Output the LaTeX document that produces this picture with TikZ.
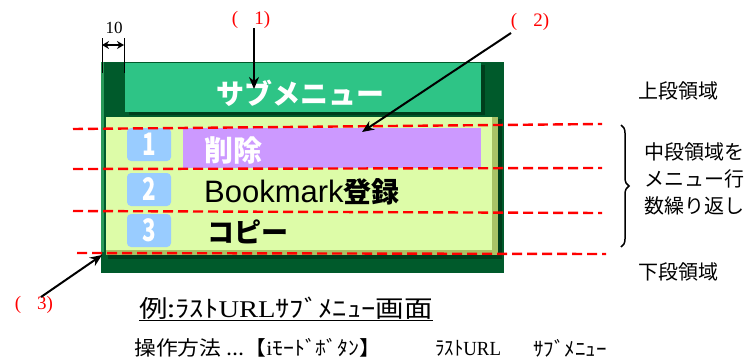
\documentclass[tikz,border=0pt]{standalone}
\usepackage{fontspec}
\setmainfont{Liberation Serif}
\setsansfont{Liberation Sans}
\newfontfamily\cjk{Noto Sans CJK JP}
\usetikzlibrary{arrows.meta,decorations.pathreplacing}
\definecolor{dkgreen}{HTML}{005A2B}
\definecolor{dkshadow}{HTML}{003E1C}
\definecolor{midgreen}{HTML}{2EC486}
\definecolor{edgegreen}{HTML}{2A9A5A}
\definecolor{panel}{HTML}{DDFCA8}
\definecolor{olive}{HTML}{A9C266}
\definecolor{numblue}{HTML}{99CCFF}
\definecolor{selpurple}{HTML}{CC99FF}
\definecolor{redline}{HTML}{FF0000}
\begin{document}
\begin{tikzpicture}[x=1pt,y=-1pt,
  box/.style={inner sep=0pt,outer sep=0pt,anchor=north west},
  numbox/.style={box,fill=numblue,rounded corners=4pt,minimum width=44,minimum height=33,
     text=white,font=\cjk\bfseries\fontsize{31}{31}\selectfont},
  reddash/.style={draw=redline,line width=2.4pt,dash pattern=on 10pt off 5pt},
  arr/.style={draw=black,line width=2pt,-{Stealth[length=12pt,width=10pt]}},
  lbl/.style={inner sep=0pt,anchor=west,font=\cjk\fontsize{20}{27}\selectfont},
  redlbl/.style={inner sep=0pt,text=redline,font=\fontsize{19}{19}\selectfont}]
\useasboundingbox (0,0) rectangle (746,362);
% frame
\node[box,fill=dkgreen,minimum width=403,minimum height=211] (outer) at (101,62) {};
\node[box,fill=edgegreen,minimum width=3,minimum height=190] (outeredge) at (101,62) {};
% title bar
\node[box,fill=dkshadow,minimum width=356,minimum height=50] (titleshadow) at (129,65) {};
\node[box,fill=midgreen,minimum width=356,minimum height=49] (title) at (125,63) {};
\node[text=white,font=\cjk\bfseries\fontsize{28}{28}\selectfont,inner sep=0pt] (titletext) at (300,93) {サブメニュー};
% panel
\node[box,fill=dkshadow,minimum width=394,minimum height=140] (panelshadow) at (108,119) {};
\node[box,fill=olive,minimum width=392,minimum height=138] (paneledge) at (106,117) {};
\node[box,fill=panel,minimum width=386,minimum height=133] (panel) at (106,117) {};
% selected row
\node[box,fill=selpurple,minimum width=298,minimum height=40] (sel) at (183,128) {};
% number boxes
\node[numbox] (n1) at (127,128) {\scalebox{0.72}[1]{1}};
\node[numbox] (n2) at (127,173) {\scalebox{0.72}[1]{2}};
\node[numbox] (n3) at (127,214) {\scalebox{0.72}[1]{3}};
% item texts
\node[inner sep=0pt,anchor=west,text=white,font=\cjk\bfseries\fontsize{29}{29}\selectfont] (i1) at (204,150) {削除};
\node[inner sep=0pt,anchor=west,font=\cjk\fontsize{28}{28}\selectfont] (i2) at (204,192) {{\sffamily\fontsize{31}{31}\selectfont Bookmark}{\bfseries 登録}};
\node[inner sep=0pt,anchor=west,font=\cjk\bfseries\fontsize{27}{27}\selectfont] (i3) at (207,232) {コピー};
% red dashed lines
\coordinate (d1a) at (73,129); \coordinate (d1b) at (602,124);
\coordinate (d2a) at (73,169); \coordinate (d2b) at (602,168);
\coordinate (d3a) at (73,211); \coordinate (d3b) at (602,213);
\coordinate (d4a) at (77,253); \coordinate (d4b) at (606,254);
\draw[reddash] (d1a) -- (d1b);
\draw[reddash] (d2a) -- (d2b);
\draw[reddash] (d3a) -- (d3b);
\draw[reddash] (d4a) -- (d4b);
% dimension 10
\coordinate (t1a) at (102,38); \coordinate (t1b) at (102,73);
\coordinate (t2a) at (124,38); \coordinate (t2b) at (124,73);
\draw[line width=1pt] (t1a) -- (t1b);
\draw[line width=1pt] (t2a) -- (t2b);
\coordinate (da) at (102,45); \coordinate (db) at (124,45);
\draw[line width=1.2pt,{Stealth[length=7pt,width=8pt]}-{Stealth[length=7pt,width=8pt]}] (da) -- (db);
\node[inner sep=0pt,font=\fontsize{17}{17}\selectfont] (ten) at (114,28) {10};
% callouts
\node[redlbl] (p1) at (251,20) {(\hspace{16pt}1)};
\coordinate (a1s) at (254,28); \coordinate (a1e) at (254,89);
\draw[arr] (a1s) -- (a1e);
\node[redlbl] (p2) at (530,22) {(\hspace{16pt}2)};
\coordinate (a2s) at (511,33); \coordinate (a2e) at (362,132);
\draw[arr] (a2s) -- (a2e);
\node[redlbl] (p3) at (34,305) {(\hspace{16pt}3)};
\coordinate (a3s) at (41,297); \coordinate (a3e) at (102,255);
\draw[arr] (a3s) -- (a3e);
% brace
\coordinate (bra) at (621,125); \coordinate (brb) at (621,247);
\draw[line width=1.5pt,decorate,decoration={brace,amplitude=8pt}] (bra) -- (brb);
% right labels
\node[lbl] (upper) at (638,91) {上段領域};
\node[lbl,anchor=north west,align=left] (middle) at (644,142) {中段領域を\\メニュー行\\数繰り返し};
\node[lbl] (lower) at (638,272) {下段領域};
% captions
\node[inner sep=0pt,anchor=west,font=\cjk\fontsize{24}{24}\selectfont] (cap) at (139,309)
  {\scalebox{1.19}[1]{\underline{例:ﾗｽﾄ{\rmfamily URL}ｻﾌﾞﾒﾆｭｰ画面}}};
\node[inner sep=0pt,anchor=west,font=\cjk\fontsize{20}{20}\selectfont] (op) at (134,348)
  {\scalebox{1.09}[1]{操作方法 ...【{\rmfamily i}ﾓｰﾄﾞﾎﾞﾀﾝ】}};
\node[inner sep=0pt,anchor=west,font=\cjk\fontsize{20}{20}\selectfont] (op2) at (435,348)
  {\scalebox{0.94}[1]{ﾗｽﾄ{\rmfamily URL}}};
\node[inner sep=0pt,anchor=west,font=\cjk\fontsize{20}{20}\selectfont] (op3) at (533,348)
  {\scalebox{1.05}[1]{ｻﾌﾞﾒﾆｭｰ}};
\end{tikzpicture}
\end{document}
